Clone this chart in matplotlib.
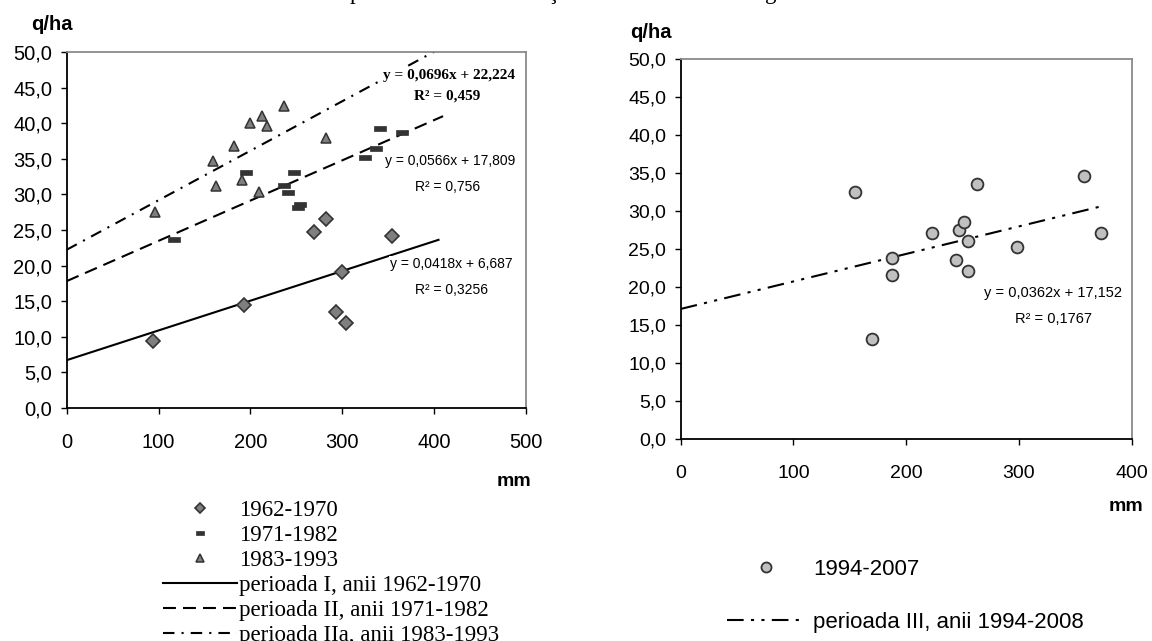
import matplotlib
matplotlib.use('Agg')
import matplotlib.pyplot as plt
import numpy as np
from matplotlib.ticker import FuncFormatter, MultipleLocator

# ---- data ----
# left chart (mm rainfall vs q/ha yield)
x_6270 = [94, 193, 269, 283, 293, 300, 304, 354]
y_6270 = [9.4, 14.4, 24.7, 26.5, 13.5, 19.1, 11.9, 24.1]
x_7182 = [117, 195, 237, 241, 248, 252, 254, 325, 337, 341, 365]
y_7182 = [23.7, 33.2, 31.4, 30.4, 33.2, 28.3, 28.7, 35.2, 36.5, 39.3, 38.8]
x_8393 = [96, 159, 163, 182, 191, 200, 209, 213, 218, 237, 282]
y_8393 = [27.5, 34.7, 31.2, 36.8, 32.0, 40.1, 30.3, 41.0, 39.7, 42.4, 37.9]
# right chart
x_9407 = [155, 170, 187, 187, 223, 244, 247, 251, 255, 255, 263, 298, 358, 373]
y_9407 = [32.5, 13.2, 23.9, 21.6, 27.2, 23.6, 27.5, 28.6, 26.1, 22.2, 33.6, 25.3, 34.7, 27.2]

# trend lines: slope, intercept
trend_I = (0.0418, 6.687)
trend_II = (0.0566, 17.809)
trend_IIa = (0.0696, 22.224)
trend_III = (0.0362, 17.152)

labels_left = ["1962-1970", "1971-1982", "1983-1993",
               "perioada I, anii 1962-1970", "perioada II, anii 1971-1982",
               "perioada IIa, anii 1983-1993"]
labels_right = ["1994-2007", "perioada III, anii 1994-2008"]

SANS = 'Liberation Sans'
SERIF = 'Liberation Serif'
W, H = 1152, 641

fig = plt.figure(figsize=(W / 100, H / 100), dpi=100)


def px_box(x0, y0, x1, y1):
    return [x0 / W, 1 - y1 / H, (x1 - x0) / W, (y1 - y0) / H]


ax1 = fig.add_axes(px_box(66.7, 52.3, 525.7, 407.7))
ax2 = fig.add_axes(px_box(680.7, 59.3, 1131.7, 439.3))

comma = FuncFormatter(lambda v, p: f"{v:.1f}".replace('.', ','))


def style(ax, xmax, fs):
    ax.set_xlim(0, xmax)
    ax.set_ylim(0, 50)
    ax.xaxis.set_major_locator(MultipleLocator(100))
    ax.yaxis.set_major_locator(MultipleLocator(5))
    ax.yaxis.set_major_formatter(comma)
    ax.tick_params(direction='out', length=4.5, width=1.0, color='black')
    ax.tick_params(axis='x', pad=14)
    ax.tick_params(axis='y', pad=6)
    for lab in ax.get_xticklabels() + ax.get_yticklabels():
        lab.set_fontfamily(SANS)
        lab.set_fontsize(fs)
    for s in ['top', 'right']:
        ax.spines[s].set_color('#8a8a8a')
        ax.spines[s].set_linewidth(1.3)
    for s in ['left', 'bottom']:
        ax.spines[s].set_color('black')
        ax.spines[s].set_linewidth(1.3)


style(ax1, 500, 14.5)
style(ax2, 400, 14)

dash_marker = [(-1, -0.45), (1, -0.45), (1, 0.45), (-1, 0.45), (-1, -0.45)]

# left trend lines
xl = np.array([0, 405])
l1, = ax1.plot(xl, trend_I[0] * xl + trend_I[1], color='black', lw=1.5, zorder=2)
xl2 = np.array([0, 410])
l2, = ax1.plot(xl2, trend_II[0] * xl2 + trend_II[1], color='black', lw=1.5,
               dashes=(6.2, 3.4), zorder=2)
l3, = ax1.plot(xl2, trend_IIa[0] * xl2 + trend_IIa[1], color='black', lw=1.5,
               dashes=(5.5, 3.4, 1, 3.4), zorder=2)

m1, = ax1.plot(x_6270, y_6270, ls='none', marker='D', ms=7, mfc='#7f7f7f',
               mec='#333333', mew=1.2, zorder=3)
m2, = ax1.plot(x_7182, y_7182, ls='none', marker=dash_marker, ms=8,
               mfc='#333333', mec='#333333', mew=0.5, zorder=3)
m3, = ax1.plot(x_8393, y_8393, ls='none', marker='^', ms=7, mfc='#7f7f7f',
               mec='#333333', mew=1.1, zorder=3)

wb = dict(facecolor='white', edgecolor='none', pad=1)
ax1.text(416, 46.7, "y = 0,0696x + 22,224", family=SERIF, weight='bold',
         fontsize=11, ha='center', va='center', bbox=wb, zorder=4)
ax1.text(414, 43.9, "R² = 0,459", family=SERIF, weight='bold',
         fontsize=11, ha='center', va='center', zorder=4)
ax1.text(417.5, 34.7, "y = 0,0566x + 17,809", family=SANS, fontsize=10,
         ha='center', va='center', bbox=wb, zorder=4)
ax1.text(415, 31.1, "R² = 0,756", family=SANS, fontsize=10,
         ha='center', va='center', zorder=4)
ax1.text(419.4, 20.2, "y = 0,0418x + 6,687", family=SANS, fontsize=10,
         ha='center', va='center', bbox=wb, zorder=4)
ax1.text(419, 16.5, "R² = 0,3256", family=SANS, fontsize=10,
         ha='center', va='center', zorder=4)

# right chart
xr = np.array([0, 373])
l4, = ax2.plot(xr, trend_III[0] * xr + trend_III[1], color='black', lw=1.5,
               dashes=(8, 3.5, 1.5, 3.5, 1.5, 3.5), zorder=2)
m4, = ax2.plot(x_9407, y_9407, ls='none', marker='o', ms=8.5, mfc='#c0c0c0',
               mec='#333333', mew=1.3, zorder=3)
ax2.text(329.8, 19.3, "y = 0,0362x + 17,152", family=SANS, fontsize=10.5,
         ha='center', va='center', zorder=4)
ax2.text(330.2, 15.8, "R² = 0,1767", family=SANS, fontsize=10.5,
         ha='center', va='center', zorder=4)

# axis unit labels
fig.text(51.7 / W, 1 - 25 / H, "q/ha", family=SANS, weight='bold', fontsize=14.5,
         ha='center', va='center')
fig.text(651 / W, 1 - 33 / H, "q/ha", family=SANS, weight='bold', fontsize=14.5,
         ha='center', va='center')
fig.text(514 / W, 1 - 481.7 / H, "mm", family=SANS, weight='bold', fontsize=14,
         ha='center', va='center')
fig.text(1126.5 / W, 1 - 506.7 / H, "mm", family=SANS, weight='bold', fontsize=14,
         ha='center', va='center')

# cropped line of the page title above the charts (only descenders visible)
for xp, ch in [(355, "p"), (553, "ţ"), (771, "g")]:
    fig.text(xp / W, 1 + 1.5 / H, ch, family=SERIF, fontsize=16.5,
             ha='center', va='baseline')

# legends
leg1 = fig.legend([m1, m2, m3, l1, l2, l3], labels_left, loc='upper left',
                  bbox_to_anchor=(162.7 / W, 1 - 500 / H), frameon=False,
                  prop={'family': SERIF, 'size': 16.5}, borderpad=0,
                  borderaxespad=0, handlelength=3.23, handletextpad=0.12,
                  labelspacing=0.17, markerscale=0.75)
leg2 = fig.legend([m4, l4], labels_right, loc='upper left',
                  bbox_to_anchor=(727.3 / W, 1 - 559 / H), frameon=False,
                  prop={'family': SANS, 'size': 16}, borderpad=0,
                  borderaxespad=0, handlelength=3.5, handletextpad=0.37,
                  labelspacing=1.43, markerscale=0.85)

fig.savefig('out.png', dpi=100)
